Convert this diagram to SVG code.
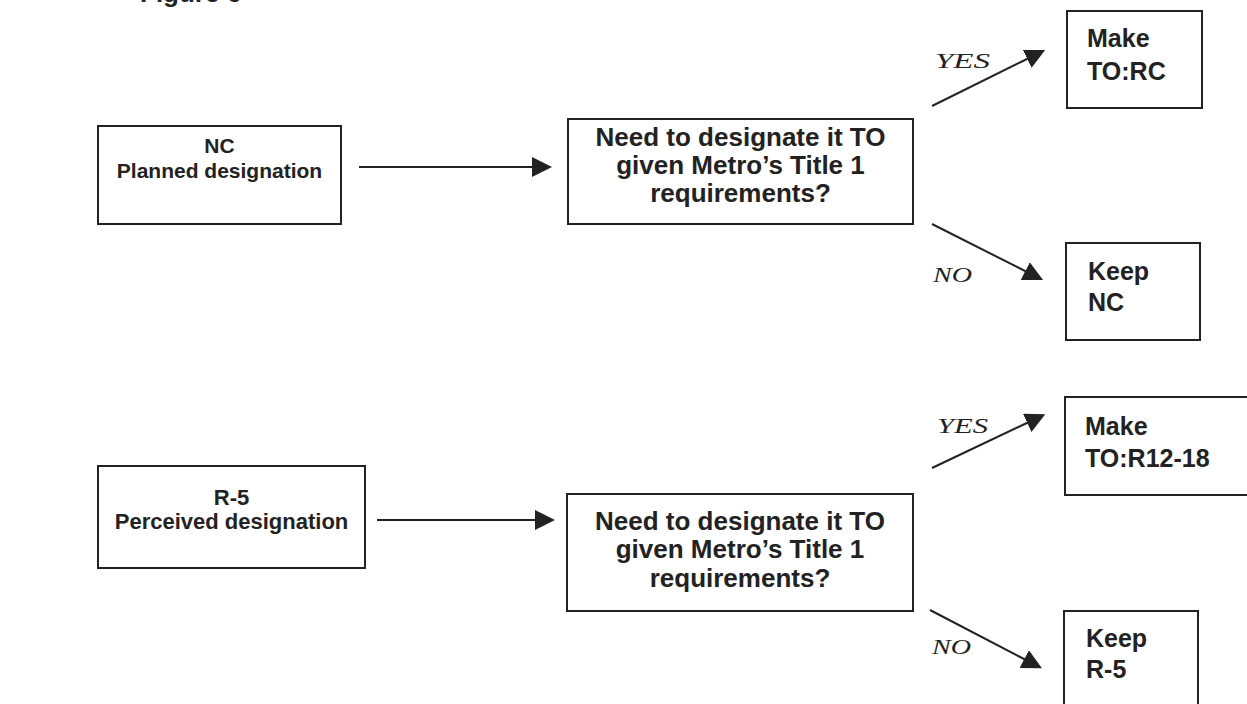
<svg xmlns="http://www.w3.org/2000/svg" width="1247" height="704" viewBox="0 0 1247 704">
<style>
.box{fill:#fff;stroke:#222;stroke-width:2}
.bt{font-family:"Liberation Sans",Arial,sans-serif;font-weight:bold;fill:#222}
.c{text-anchor:middle}
.lab{font-family:"Liberation Serif","Times New Roman",serif;font-style:italic;fill:#222;font-size:22px}
.ln{stroke:#222;stroke-width:2;fill:none;marker-end:url(#ah)}
</style>
<defs>
<marker id="ah" viewBox="0 0 20 20" refX="2" refY="10" markerWidth="20" markerHeight="20" markerUnits="userSpaceOnUse" orient="auto">
<path d="M0,0 L20,10 L0,20 Z" fill="#222"/>
</marker>
</defs>
<rect width="1247" height="704" fill="#fff"/>
<text x="140" y="2" class="bt" font-size="26">Figure 6</text>
<g id="n1"><rect class="box" x="98" y="126" width="243" height="98"/>
<text class="bt c" font-size="21"><tspan x="219.5" y="153">NC</tspan><tspan x="219.5" y="178">Planned designation</tspan></text></g>
<g id="d1"><rect class="box" x="568" y="119" width="345" height="105"/>
<text class="bt c" font-size="26"><tspan x="740.5" y="146">Need to designate it TO</tspan><tspan x="740.5" y="174">given Metro’s Title 1</tspan><tspan x="740.5" y="202">requirements?</tspan></text></g>
<g id="y1"><rect class="box" x="1067" y="11" width="135" height="97"/>
<text class="bt" font-size="25"><tspan x="1087" y="47">Make</tspan><tspan x="1087" y="80">TO:RC</tspan></text></g>
<g id="k1"><rect class="box" x="1066" y="243" width="134" height="97"/>
<text class="bt" font-size="25"><tspan x="1088" y="280">Keep</tspan><tspan x="1088" y="311">NC</tspan></text></g>
<g id="n2"><rect class="box" x="98" y="466" width="267" height="102"/>
<text class="bt c" font-size="22"><tspan x="231.5" y="505">R-5</tspan><tspan x="231.5" y="529">Perceived designation</tspan></text></g>
<g id="d2"><rect class="box" x="567" y="494" width="346" height="117"/>
<text class="bt c" font-size="26"><tspan x="740" y="530">Need to designate it TO</tspan><tspan x="740" y="558">given Metro’s Title 1</tspan><tspan x="740" y="587">requirements?</tspan></text></g>
<g id="y2"><rect class="box" x="1065" y="397" width="190" height="98"/>
<text class="bt" font-size="25"><tspan x="1085" y="435">Make</tspan><tspan x="1085" y="467">TO:R12-18</tspan></text></g>
<g id="k2"><rect class="box" x="1064" y="611" width="134" height="100"/>
<text class="bt" font-size="25"><tspan x="1086" y="647">Keep</tspan><tspan x="1086" y="678">R-5</tspan></text></g>
<g id="connectors">
<line class="ln" x1="359" y1="167" x2="534" y2="167"/>
<line class="ln" x1="932" y1="106" x2="1029" y2="58"/>
<line class="ln" x1="932" y1="224" x2="1027" y2="272"/>
<line class="ln" x1="377" y1="520" x2="537" y2="520"/>
<line class="ln" x1="932" y1="468" x2="1029" y2="422"/>
<line class="ln" x1="930" y1="610" x2="1026" y2="660"/>
<text class="lab" x="935" y="68" textLength="55" lengthAdjust="spacingAndGlyphs">YES</text>
<text class="lab" x="933" y="282" textLength="39" lengthAdjust="spacingAndGlyphs">NO</text>
<text class="lab" x="937" y="433" textLength="51" lengthAdjust="spacingAndGlyphs">YES</text>
<text class="lab" x="932" y="654" textLength="39" lengthAdjust="spacingAndGlyphs">NO</text>
</g>
</svg>
